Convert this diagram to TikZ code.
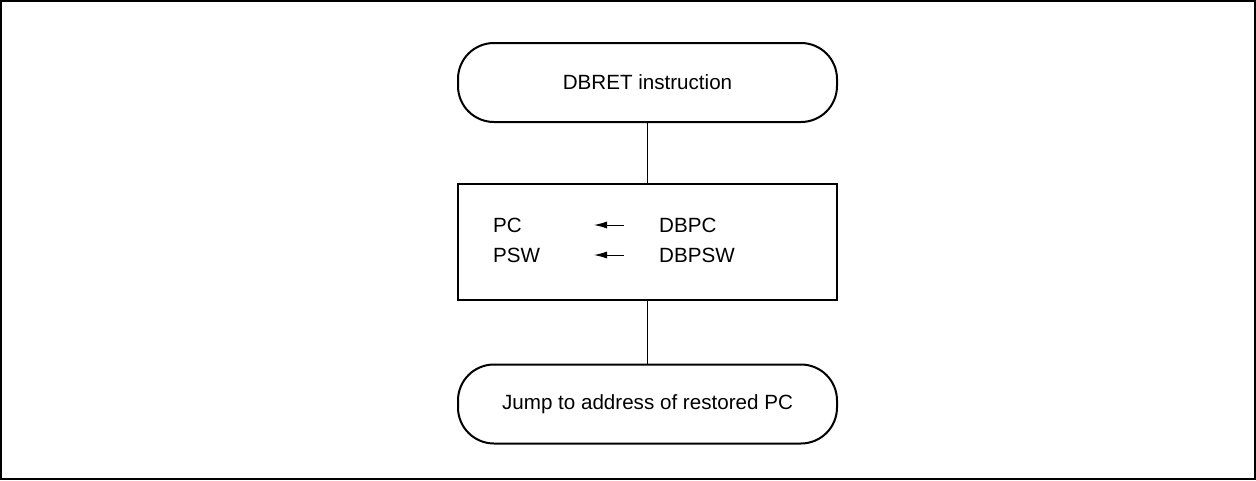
\documentclass[tikz,border=0pt]{standalone}
\usepackage{fontspec}
\setmainfont{Liberation Sans}
\usetikzlibrary{arrows.meta}
\begin{document}
\begin{tikzpicture}[x=1pt,y=-1pt,
  txt/.style={font=\fontsize{20.6}{24}\selectfont, inner sep=0pt},
  term/.style={draw, line width=2pt, rounded corners=36pt, minimum width=379pt, minimum height=79pt, txt},
  procbox/.style={draw, line width=2pt, minimum width=379pt, minimum height=116pt},
  link/.style={line width=0.9pt},
  assign/.style={line width=0.9pt, -{Latex[length=13pt,width=7pt]}}]
\useasboundingbox (0,0) rectangle (1256,480);
\draw[line width=2.2pt] (1,1) rectangle (1255,479);
\node[term] (top) at (647.5,82.5) {DBRET instruction};
\node[procbox] (mid) at (647.5,242) {};
\node[term] (bot) at (647.5,404) {Jump to address of restored PC};
\draw[link] (top) -- (mid);
\draw[link] (mid) -- (bot);
\node[txt, anchor=west] (pc) at (493,225) {PC};
\node[txt, anchor=west] (psw) at (493,255) {PSW};
\node[txt, anchor=west] (dbpc) at (659,225) {DBPC};
\node[txt, anchor=west] (dbpsw) at (659,255) {DBPSW};
\coordinate (a1s) at (624,225);
\coordinate (a1e) at (594,225);
\coordinate (a2s) at (624,255);
\coordinate (a2e) at (594,255);
\draw[assign] (a1s) -- (a1e);
\draw[assign] (a2s) -- (a2e);
\end{tikzpicture}
\end{document}
